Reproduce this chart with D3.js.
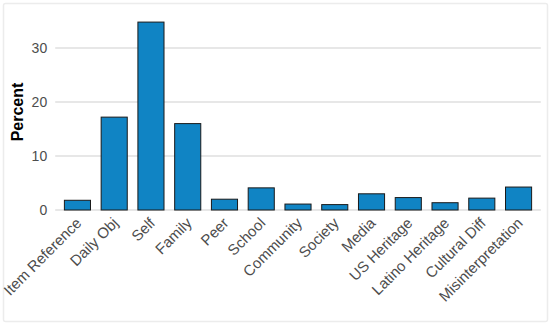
<!DOCTYPE html>
<html>
<head>
<meta charset="utf-8">
<script src="https://cdn.jsdelivr.net/npm/d3@7"></script>
<style>
  html, body { margin: 0; padding: 0; background: #fff; }
  svg { display: block; }
</style>
</head>
<body>
<svg id="chart" width="550" height="325"></svg>
<script>
const categories = ["Item Reference", "Daily Obj", "Self", "Family", "Peer", "School", "Community", "Society", "Media", "US Heritage", "Latino Heritage", "Cultural Diff", "Misinterpretation"];
const percents = [1.8, 17.2, 34.8, 16.0, 2.0, 4.1, 1.1, 1.0, 3.0, 2.3, 1.35, 2.2, 4.25];
const yTicks = [0, 10, 20, 30];
const yLabel = "Percent";

const svg = d3.select("#chart");

// faint card border
svg.append("rect")
  .attr("x", 3.5).attr("y", 3.5)
  .attr("width", 544).attr("height", 318)
  .attr("rx", 2)
  .attr("fill", "none")
  .attr("stroke", "#ececec")
  .attr("stroke-width", 1.5);

const panelLeft = 55.2, panelRight = 540.8;
const x = d3.scaleBand()
  .domain(categories)
  .range([panelLeft, panelRight])
  .paddingInner(0.29)
  .paddingOuter(0.25);

const y = d3.scaleLinear().domain([0, 30]).range([210, 48]);

// gridlines
svg.append("g")
  .selectAll("line")
  .data(yTicks)
  .join("line")
  .attr("x1", panelLeft)
  .attr("x2", panelRight)
  .attr("y1", d => y(d))
  .attr("y2", d => y(d))
  .attr("stroke", "#d0d0d0")
  .attr("stroke-width", 1.1);

// bars
svg.append("g")
  .selectAll("rect")
  .data(categories)
  .join("rect")
  .attr("x", d => x(d))
  .attr("width", x.bandwidth())
  .attr("y", (d, i) => y(percents[i]))
  .attr("height", (d, i) => y(0) - y(percents[i]))
  .attr("fill", "#1084c4")
  .attr("stroke", "#1a1a1a")
  .attr("stroke-width", 1);

// y axis
const yAxis = d3.axisLeft(y).tickValues(yTicks).tickSize(0).tickPadding(8);
const gy = svg.append("g")
  .attr("transform", `translate(${panelLeft},0)`)
  .call(yAxis);
gy.select(".domain").remove();
gy.selectAll("text")
  .attr("font-family", "Liberation Sans, Arial, sans-serif")
  .attr("font-size", 14)
  .attr("fill", "#4d4d4d");

// x axis
const xAxis = d3.axisBottom(x).tickSize(0).tickPadding(0);
const gx = svg.append("g")
  .attr("transform", `translate(0,${y(0)})`)
  .call(xAxis);
gx.select(".domain").remove();
gx.selectAll("text")
  .attr("font-family", "Liberation Sans, Arial, sans-serif")
  .attr("font-size", 15)
  .attr("fill", "#4d4d4d")
  .attr("text-anchor", "end")
  .attr("dy", null)
  .attr("y", 0)
  .attr("transform", "translate(5,14) rotate(-45)");

// y label
svg.append("text")
  .attr("transform", "translate(23,112) rotate(-90)")
  .attr("text-anchor", "middle")
  .attr("font-family", "Liberation Sans, Arial, sans-serif")
  .attr("font-weight", "bold")
  .attr("font-size", 16)
  .attr("fill", "#000")
  .text(yLabel);
</script>
</body>
</html>
